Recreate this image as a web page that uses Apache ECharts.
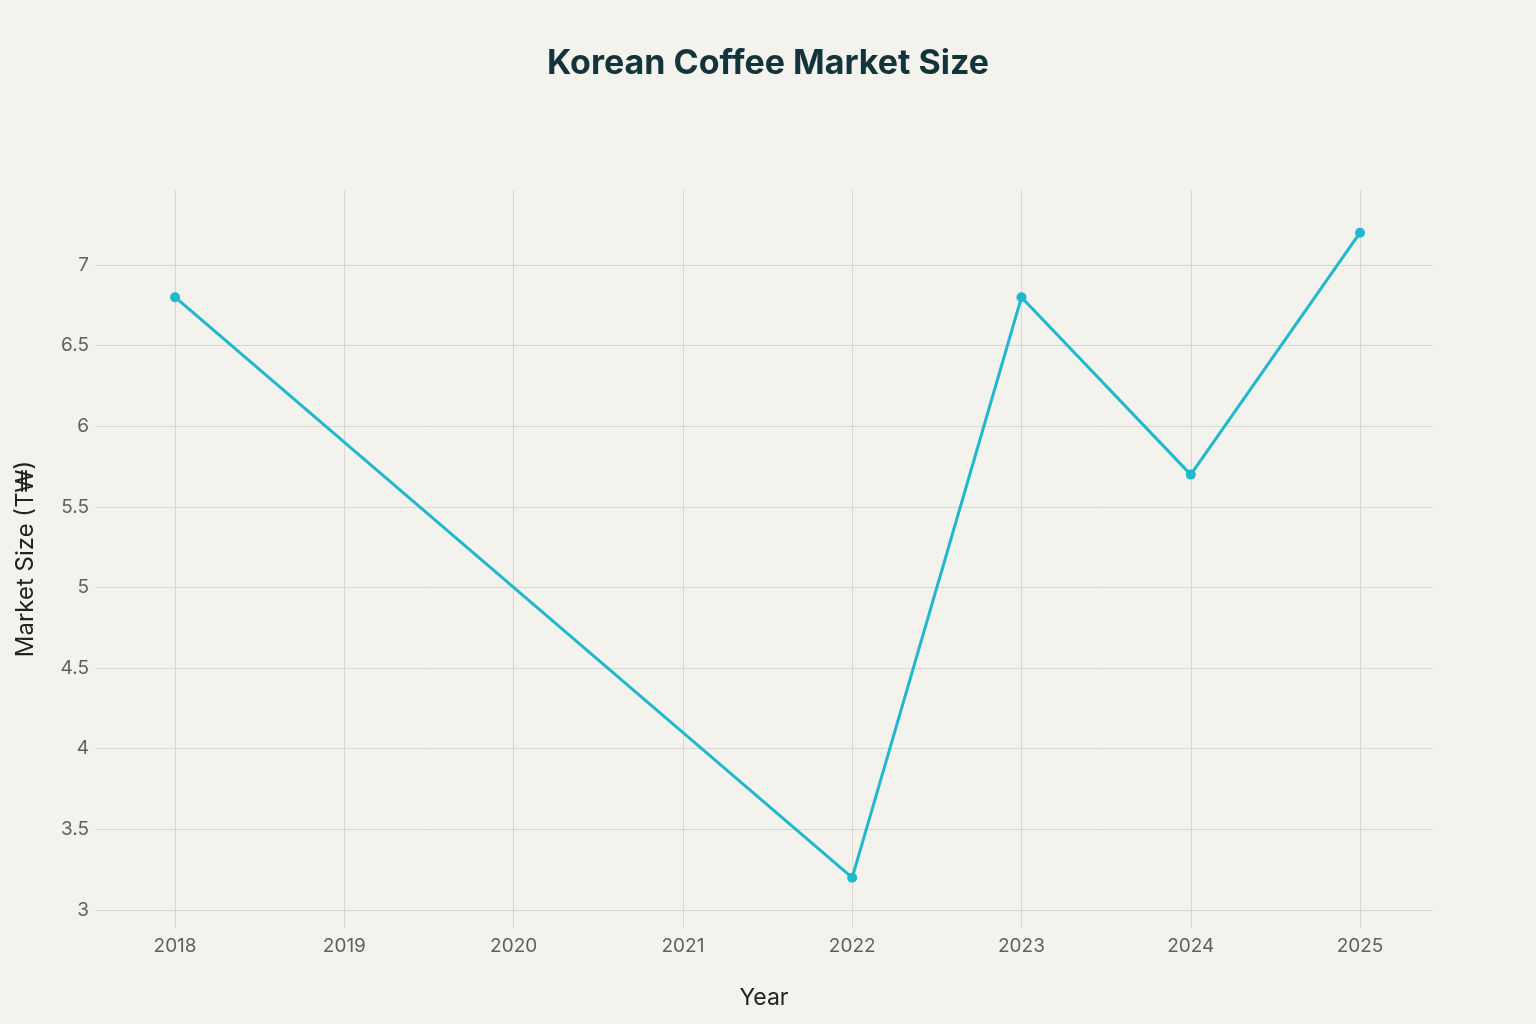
<!DOCTYPE html>
<html>
<head>
<meta charset="utf-8">
<script src="https://cdn.jsdelivr.net/npm/echarts@6/dist/echarts.min.js"></script>
<style>
html,body{margin:0;padding:0;background:#F3F2EC;}
#chart{width:1536px;height:1024px;}
</style>
</head>
<body>
<div id="chart"></div>
<script>
const years = [2018, 2022, 2023, 2024, 2025];
const marketSize = [6.8, 3.2, 6.8, 5.7, 7.2];
const xTicks = [2018, 2019, 2020, 2021, 2022, 2023, 2024, 2025];
const yTicks = [3, 3.5, 4, 4.5, 5, 5.5, 6, 6.5, 7];

const chart = echarts.init(document.getElementById('chart'));
const gridColor = '#D6D6D2';
const font = 'Inter, "Noto Sans", sans-serif';
chart.setOption({
  backgroundColor: '#F3F2EC',
  animation: false,
  title: {
    text: 'Korean Coffee Market Size',
    left: 'center',
    top: 42,
    textStyle: { fontFamily: font, fontSize: 34, fontWeight: 'bold', color: '#13343B' }
  },
  grid: { left: 95, right: 103, top: 190, bottom: 96 },
  xAxis: {
    type: 'value',
    min: 2017.527,
    max: 2025.431,
    name: 'Year',
    nameLocation: 'middle',
    nameGap: 59,
    nameTextStyle: { fontFamily: font, fontSize: 23, color: '#222' },
    axisLine: { show: false },
    axisTick: { show: false, customValues: xTicks },
    axisLabel: { customValues: xTicks, fontFamily: font, fontSize: 19, color: '#5F5F5F', margin: 9, formatter: v => String(v) },
    splitLine: { show: true, lineStyle: { color: gridColor, width: 1 } }
  },
  yAxis: {
    type: 'value',
    min: 2.888,
    max: 7.465,
    name: 'Market Size (T₩)',
    nameLocation: 'middle',
    nameGap: 57,
    nameRotate: 90,
    nameTextStyle: { fontFamily: font, fontSize: 24, color: '#222' },
    axisLine: { show: false },
    axisTick: { show: false, customValues: yTicks },
    axisLabel: { customValues: yTicks, fontFamily: font, fontSize: 19, color: '#5F5F5F', margin: 6, formatter: v => String(v) },
    splitLine: { show: true, lineStyle: { color: gridColor, width: 1 } }
  },
  series: [{
    type: 'line',
    data: years.map((y, i) => [y, marketSize[i]]),
    symbol: 'circle',
    symbolSize: 10,
    lineStyle: { color: '#1FB8CD', width: 3 },
    itemStyle: { color: '#1FB8CD' }
  }]
});
</script>
</body>
</html>
